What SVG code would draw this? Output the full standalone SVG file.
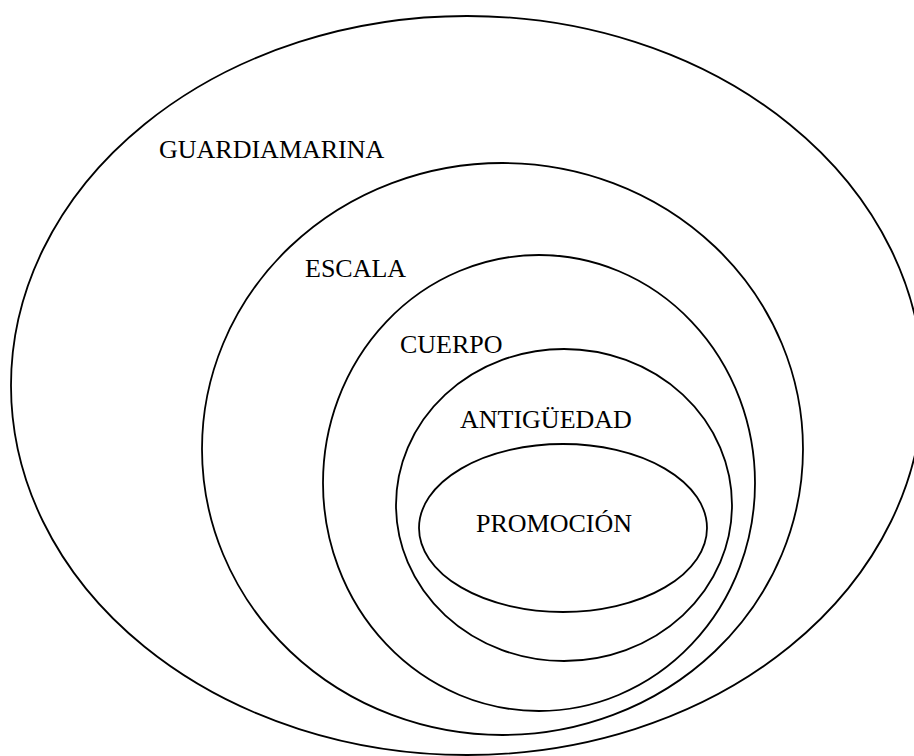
<svg xmlns="http://www.w3.org/2000/svg" width="914" height="756" viewBox="0 0 914 756">
<style>
.ring{fill:none;stroke:#000;stroke-width:1.8}
.lbl{font-family:"Liberation Serif","Times New Roman",serif;font-size:26px;fill:#000}
</style>
<rect width="914" height="756" fill="#fff"/>
<g id="guardiamarina">
<ellipse class="ring" cx="467" cy="385.5" rx="456" ry="369.5"/>
<text class="lbl" x="159" y="158">GUARDIAMARINA</text>
</g>
<g id="escala">
<ellipse class="ring" cx="502.5" cy="449" rx="300.5" ry="286"/>
<text class="lbl" x="305" y="277">ESCALA</text>
</g>
<g id="cuerpo">
<ellipse class="ring" cx="539" cy="483" rx="216" ry="228"/>
<text class="lbl" x="400" y="353">CUERPO</text>
</g>
<g id="antiguedad">
<ellipse class="ring" cx="564" cy="505" rx="168" ry="156"/>
<text class="lbl" x="460" y="428">ANTIGÜEDAD</text>
</g>
<g id="promocion">
<ellipse class="ring" cx="563" cy="528" rx="144" ry="84"/>
<text class="lbl" x="476" y="532">PROMOCIÓN</text>
</g>
<g id="connectors"></g>
</svg>
